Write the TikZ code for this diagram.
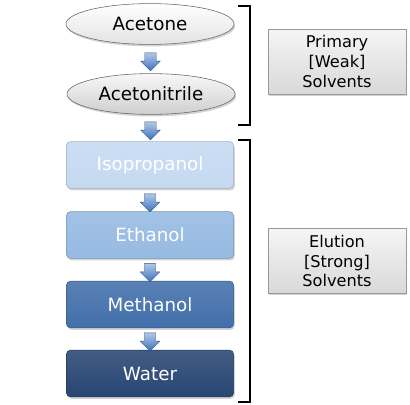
\documentclass[tikz,border=0pt]{standalone}
\usepackage{fontspec}
\setmainfont{DejaVu Sans}
\usetikzlibrary{shapes.geometric,shapes.arrows,shadows,calc}

\definecolor{ipaBlue}{RGB}{197,217,241}
\definecolor{etoBlue}{RGB}{150,186,226}
\definecolor{meoBlue}{RGB}{66,111,170}
\definecolor{watBlue}{RGB}{40,70,115}
\definecolor{arrowBlue}{RGB}{60,115,190}

\tikzset{
  solvent ell/.style={ellipse, draw=gray!80!black, thin, minimum width=4.2cm, minimum height=1.02cm,
    font=\fontsize{13}{15}\selectfont, drop shadow={shadow xshift=0.03cm, shadow yshift=-0.05cm, opacity=0.35}},
  solvent box/.style={rectangle, rounded corners=3pt, draw=#1!80!black, thin,
    top color=#1!88!white, bottom color=#1, text=white,
    minimum width=4.18cm, minimum height=1.17cm, font=\fontsize{13}{15}\selectfont,
    drop shadow={shadow xshift=0.03cm, shadow yshift=-0.05cm, opacity=0.35}},
  flow arrow/.style={single arrow, shape border rotate=270, inner sep=0.14cm,
    minimum height=0.45cm, single arrow head extend=0.1cm, single arrow head indent=0pt,
    top color=arrowBlue!40!white, bottom color=arrowBlue, draw=arrowBlue!70!black, very thin},
  group box/.style={rectangle, draw=gray!80, thin, top color=gray!8, bottom color=gray!30,
    minimum width=3.45cm, minimum height=1.62cm, align=center,
    font=\fontsize{11.5}{14}\selectfont,
    drop shadow={shadow xshift=0.03cm, shadow yshift=-0.05cm, opacity=0.35}},
  bracket/.style={draw=black, line width=0.8pt},
}

\begin{document}
\begin{tikzpicture}[scale=1.0,>=stealth]
  \useasboundingbox (0,0) rectangle (10.25,10.1);

  % Primary solvents (ellipses)
  \node[solvent ell, top color=white, bottom color=gray!22] (acetone) at (3.75, 9.5) {Acetone};
  \node[solvent ell, top color=gray!6, bottom color=gray!38] (acetonitrile) at (3.775, 7.75) {Acetonitrile};

  % Elution solvents (boxes)
  \node[solvent box=ipaBlue] (isopropanol) at (3.75, 5.975) {Isopropanol};
  \node[solvent box=etoBlue] (ethanol) at (3.75, 4.225) {Ethanol};
  \node[solvent box=meoBlue] (methanol) at (3.75, 2.4875) {Methanol};
  \node[solvent box=watBlue] (water) at (3.75, 0.7625) {Water};

  % flow arrows
  \node[flow arrow] (a1) at ($(acetone.south)!0.5!(acetonitrile.north)$) {};
  \node[flow arrow] (a2) at ($(acetonitrile.south)!0.5!(isopropanol.north)$) {};
  \node[flow arrow] (a3) at ($(isopropanol.south)!0.5!(ethanol.north)$) {};
  \node[flow arrow] (a4) at ($(ethanol.south)!0.5!(methanol.north)$) {};
  \node[flow arrow] (a5) at ($(methanol.south)!0.5!(water.north)$) {};

  % brackets
  \draw[bracket] (5.95, 9.95) -- (6.25, 9.95) -- (6.25, 6.975) -- (5.95, 6.975);
  \draw[bracket] (5.95, 6.6) -- (6.25, 6.6) -- (6.25, 0.05) -- (5.95, 0.05);

  % group labels
  \node[group box] (primary) at (8.425, 8.56) {Primary\\{}[Weak]\\Solvents};
  \node[group box] (elution) at (8.425, 3.575) {Elution\\{}[Strong]\\Solvents};
\end{tikzpicture}
\end{document}
